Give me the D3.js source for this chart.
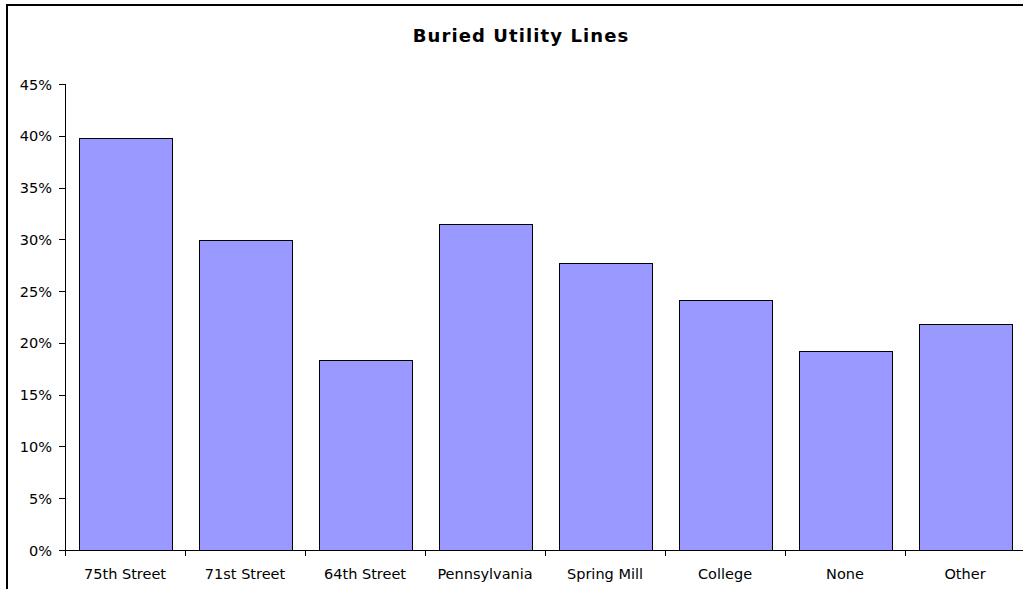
<!DOCTYPE html>
<html>
<head>
<meta charset="utf-8">
<script src="https://cdn.jsdelivr.net/npm/d3@7"></script>
<style>
  body { margin: 0; background: #fff; }
  svg { display: block; font-family: "DejaVu Sans", Verdana, sans-serif; }
  .axis path, .axis line { stroke: #000; shape-rendering: crispEdges; }
  .axis text { font-family: "DejaVu Sans", Verdana, sans-serif; font-size: 14.5px; fill: #000; }
</style>
</head>
<body>
<script>
var categories = ["75th Street", "71st Street", "64th Street", "Pennsylvania", "Spring Mill", "College", "None", "Other"];
var values = [0.398, 0.299, 0.1835, 0.3145, 0.277, 0.241, 0.1925, 0.218];
var yTicks = [0, 0.05, 0.10, 0.15, 0.20, 0.25, 0.30, 0.35, 0.40, 0.45];

var width = 1023, height = 589;
var plot = {left: 65, right: 1025, top: 84, bottom: 550};

var svg = d3.select("body").append("svg")
    .attr("width", width)
    .attr("height", height);

// outer chart border (right and bottom edges run past the window)
svg.append("rect")
    .attr("x", 7)
    .attr("y", 5)
    .attr("width", 1040)
    .attr("height", 620)
    .attr("fill", "none")
    .attr("stroke", "#000")
    .attr("stroke-width", 2);

svg.append("text")
    .attr("x", 521)
    .attr("y", 42)
    .attr("text-anchor", "middle")
    .style("font-size", "18px")
    .style("font-weight", "bold")
    .style("letter-spacing", "1.1px")
    .text("Buried Utility Lines");

var x = d3.scaleBand()
    .domain(categories)
    .range([plot.left, plot.right])
    .paddingInner(0.225)
    .paddingOuter(0.1125);

var y = d3.scaleLinear()
    .domain([0, 0.45])
    .range([plot.bottom, plot.top]);

svg.selectAll(".bar")
    .data(values)
  .enter().append("rect")
    .attr("class", "bar")
    .attr("x", function(d, i) { return Math.round(x(categories[i])) + 0.5; })
    .attr("y", function(d) { return Math.round(y(d)) + 0.5; })
    .attr("width", Math.round(x.bandwidth()))
    .attr("height", function(d) { return plot.bottom - Math.round(y(d)); })
    .attr("fill", "#9999ff")
    .attr("stroke", "#000")
    .attr("stroke-width", 1);

var yAxis = d3.axisLeft(y)
    .tickValues(yTicks)
    .tickFormat(d3.format(".0%"))
    .tickSize(6)
    .tickPadding(7);

svg.append("g")
    .attr("class", "y axis")
    .attr("transform", "translate(" + plot.left + ",0)")
    .call(yAxis)
    .call(function(g) { g.select(".domain").attr("d", "M0.5," + plot.top + "V" + plot.bottom); })
    .selectAll("text").attr("dy", "0.35em");

var xAxis = d3.axisBottom(x)
    .tickSize(0)
    .tickPadding(19);

var xg = svg.append("g")
    .attr("class", "x axis")
    .attr("transform", "translate(0," + plot.bottom + ")")
    .call(xAxis);
xg.select(".domain").attr("d", "M" + plot.left + ",0.5H" + plot.right);

// tick marks sit on the category boundaries
var gap = (x.step() - x.bandwidth()) / 2;
var bounds = categories.map(function(c) { return x(c) - gap; });
bounds.push(plot.right);
xg.selectAll(".bound")
    .data(bounds)
  .enter().append("line")
    .attr("class", "bound")
    .attr("x1", function(d) { return Math.round(d) + 0.5; })
    .attr("x2", function(d) { return Math.round(d) + 0.5; })
    .attr("y1", 0)
    .attr("y2", 6)
    .attr("stroke", "#000");
</script>
</body>
</html>
